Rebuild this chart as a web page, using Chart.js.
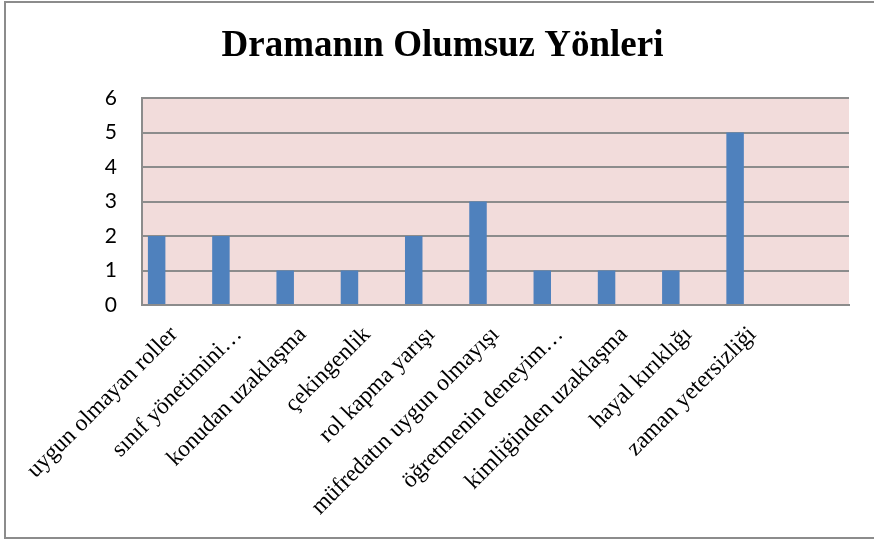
<!DOCTYPE html>
<html>
<head>
<meta charset="utf-8">
<script src="https://cdn.jsdelivr.net/npm/chart.js@4.4.1/dist/chart.umd.min.js"></script>
<style>
  html, body { margin: 0; padding: 0; background: #fff; overflow: hidden; }
  #wrap { position: relative; width: 874px; height: 540px; }
  #frame { position: absolute; left: 4px; top: 1px; width: 900px; height: 538px; border: 2px solid #8c8c8c; box-sizing: border-box; }
  canvas { position: absolute; left: 0; top: 0; }
</style>
</head>
<body>
<div id="wrap">
  <div id="frame"></div>
  <canvas id="chart" width="874" height="540" style="width:874px;height:540px"></canvas>
</div>
<script>
// categories as shown in the chart (last slot is empty)
const categories = [
  'uygun olmayan roller',
  'sınıf yönetimini…',
  'konudan uzaklaşma',
  'çekingenlik',
  'rol kapma yarışı',
  'müfredatın uygun olmayışı',
  'öğretmenin deneyim…',
  'kimliğinden uzaklaşma',
  'hayal kırıklığı',
  'zaman yetersizliği',
  ''
];
const counts = [2, 2, 1, 1, 2, 3, 1, 1, 1, 5, null];
// two empty series in the original sheet, they only take up room
const series2 = [];
const series3 = [];
const yTicks = [0, 1, 2, 3, 4, 5, 6];

const gridGrey = '#8c8c8c';

const plotBg = {
  id: 'plotBg',
  beforeDraw(chart) {
    const a = chart.chartArea;
    const ctx = chart.ctx;
    ctx.save();
    ctx.fillStyle = '#f2dcdb';
    ctx.fillRect(a.left, a.top, a.right - a.left, a.bottom - a.top);
    ctx.restore();
  }
};

const ctx = document.getElementById('chart').getContext('2d');
new Chart(ctx, {
  type: 'bar',
  data: {
    labels: categories,
    datasets: [
      { label: 'Seri 1', data: counts, backgroundColor: '#4f81bd', borderWidth: 0 },
      { label: 'Seri 2', data: series2, backgroundColor: '#c0504d', borderWidth: 0 },
      { label: 'Seri 3', data: series3, backgroundColor: '#9bbb59', borderWidth: 0 }
    ]
  },
  options: {
    responsive: false,
    animation: false,
    layout: { padding: { left: 11, right: 0, top: 0, bottom: 0 } },
    datasets: { bar: { categoryPercentage: 0.8165, barPercentage: 1.0 } },
    plugins: {
      legend: { display: false },
      tooltip: { enabled: false },
      title: {
        display: true,
        text: 'Dramanın Olumsuz Yönleri',
        color: '#000',
        font: { family: 'Liberation Serif', size: 37, weight: 'bold' },
        padding: { top: 24, bottom: 29.6 }
      }
    },
    scales: {
      x: {
        grid: { display: false },
        border: { display: true, color: gridGrey, width: 2 },
        ticks: {
          autoSkip: false,
          maxRotation: 45,
          minRotation: 45,
          color: '#000',
          padding: 8,
          font: { family: 'Liberation Serif', size: 23.5 }
        },
        afterFit(scale) { scale.height = 235; }
      },
      y: {
        min: 0,
        max: 6,
        afterBuildTicks(scale) { scale.ticks = yTicks.map(v => ({ value: v })); },
        grid: { color: gridGrey, lineWidth: 2, drawTicks: false },
        border: { display: true, color: gridGrey, width: 2 },
        ticks: {
          color: '#000',
          padding: 25,
          font: { family: 'Lato', size: 21 }
        },
        afterFit(scale) { scale.width = 131; }
      },
      y2: {
        position: 'right',
        display: true,
        grid: { display: false },
        border: { display: false },
        ticks: { display: false },
        afterFit(scale) { scale.width = 25; }
      }
    }
  },
  plugins: [plotBg]
});
</script>
</body>
</html>
